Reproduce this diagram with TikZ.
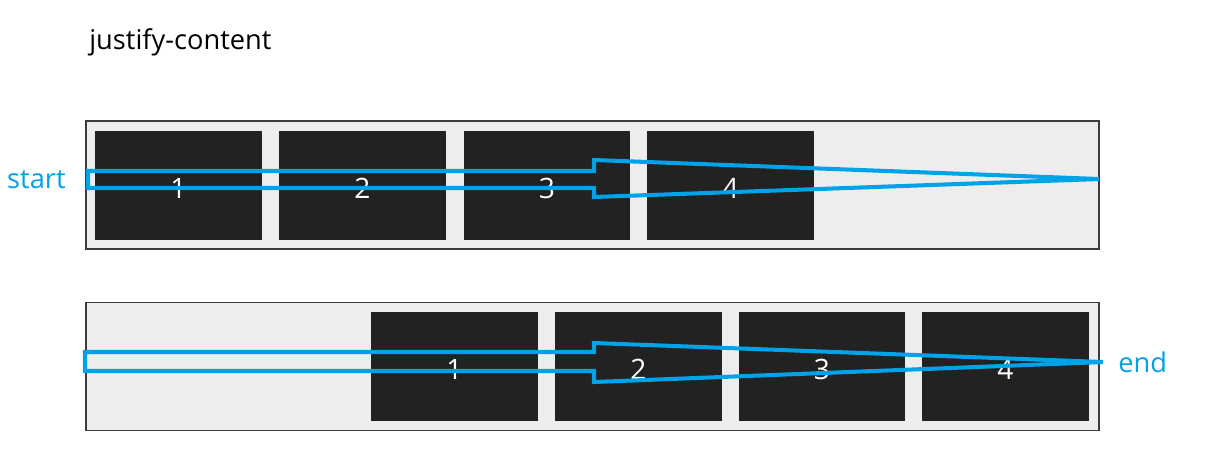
\documentclass[tikz,border=0pt]{standalone}
\usepackage{fontspec}
\setmainfont{Open Sans}
\definecolor{flexblue}{RGB}{0,162,232}
\definecolor{itemgray}{RGB}{34,34,34}
\definecolor{panelgray}{RGB}{237,237,237}
\definecolor{framegray}{RGB}{60,60,60}

\begin{document}
\begin{tikzpicture}[x=0.02cm,y=-0.02cm,
    panel/.style={draw=framegray,fill=panelgray,line width=1.1pt,minimum width=20.26cm,minimum height=2.56cm,inner sep=0pt},
    item/.style={fill=itemgray,text=white,minimum width=3.34cm,minimum height=2.18cm,inner sep=0pt,text height=15pt,font=\fontsize{16}{18}\selectfont},
    flow/.style={draw=flexblue,line width=2.3pt},
    side/.style={text=flexblue,font=\fontsize{15.5}{18}\selectfont}]
    \useasboundingbox (0,0) rectangle (1214,461);
    \node[anchor=west,inner sep=0pt,font=\fontsize{15.5}{18}\selectfont] (title) at (89,42) {justify-content};
    % containers
    \node[panel] (top) at (592.5,185) {};
    \node[panel] (bottom) at (592.5,366.5) {};
    % items
    \foreach \i/\x in {1/178.5,2/362.5,3/547,4/730.5}
    \node[item] (t\i) at (\x,185.5) {\i};
    \foreach \i/\x in {1/454.5,2/638.5,3/822,4/1005.5}
    \node[item] (b\i) at (\x,366.5) {\i};
    % arrows
    \draw[flow] (88,171) -- (594,171) -- (594,160) -- (1099,179) -- (594,197) -- (594,188) -- (88,188) -- cycle;
    \draw[flow] (85,352) -- (594,352) -- (594,343) -- (1103,362) -- (594,382) -- (594,371) -- (85,371) -- cycle;
    \node[side,anchor=east,inner sep=0pt] (start) at (66,180) {start};
    \node[side,anchor=west,inner sep=0pt] (end) at (1118,362) {end};
\end{tikzpicture}
\end{document}
